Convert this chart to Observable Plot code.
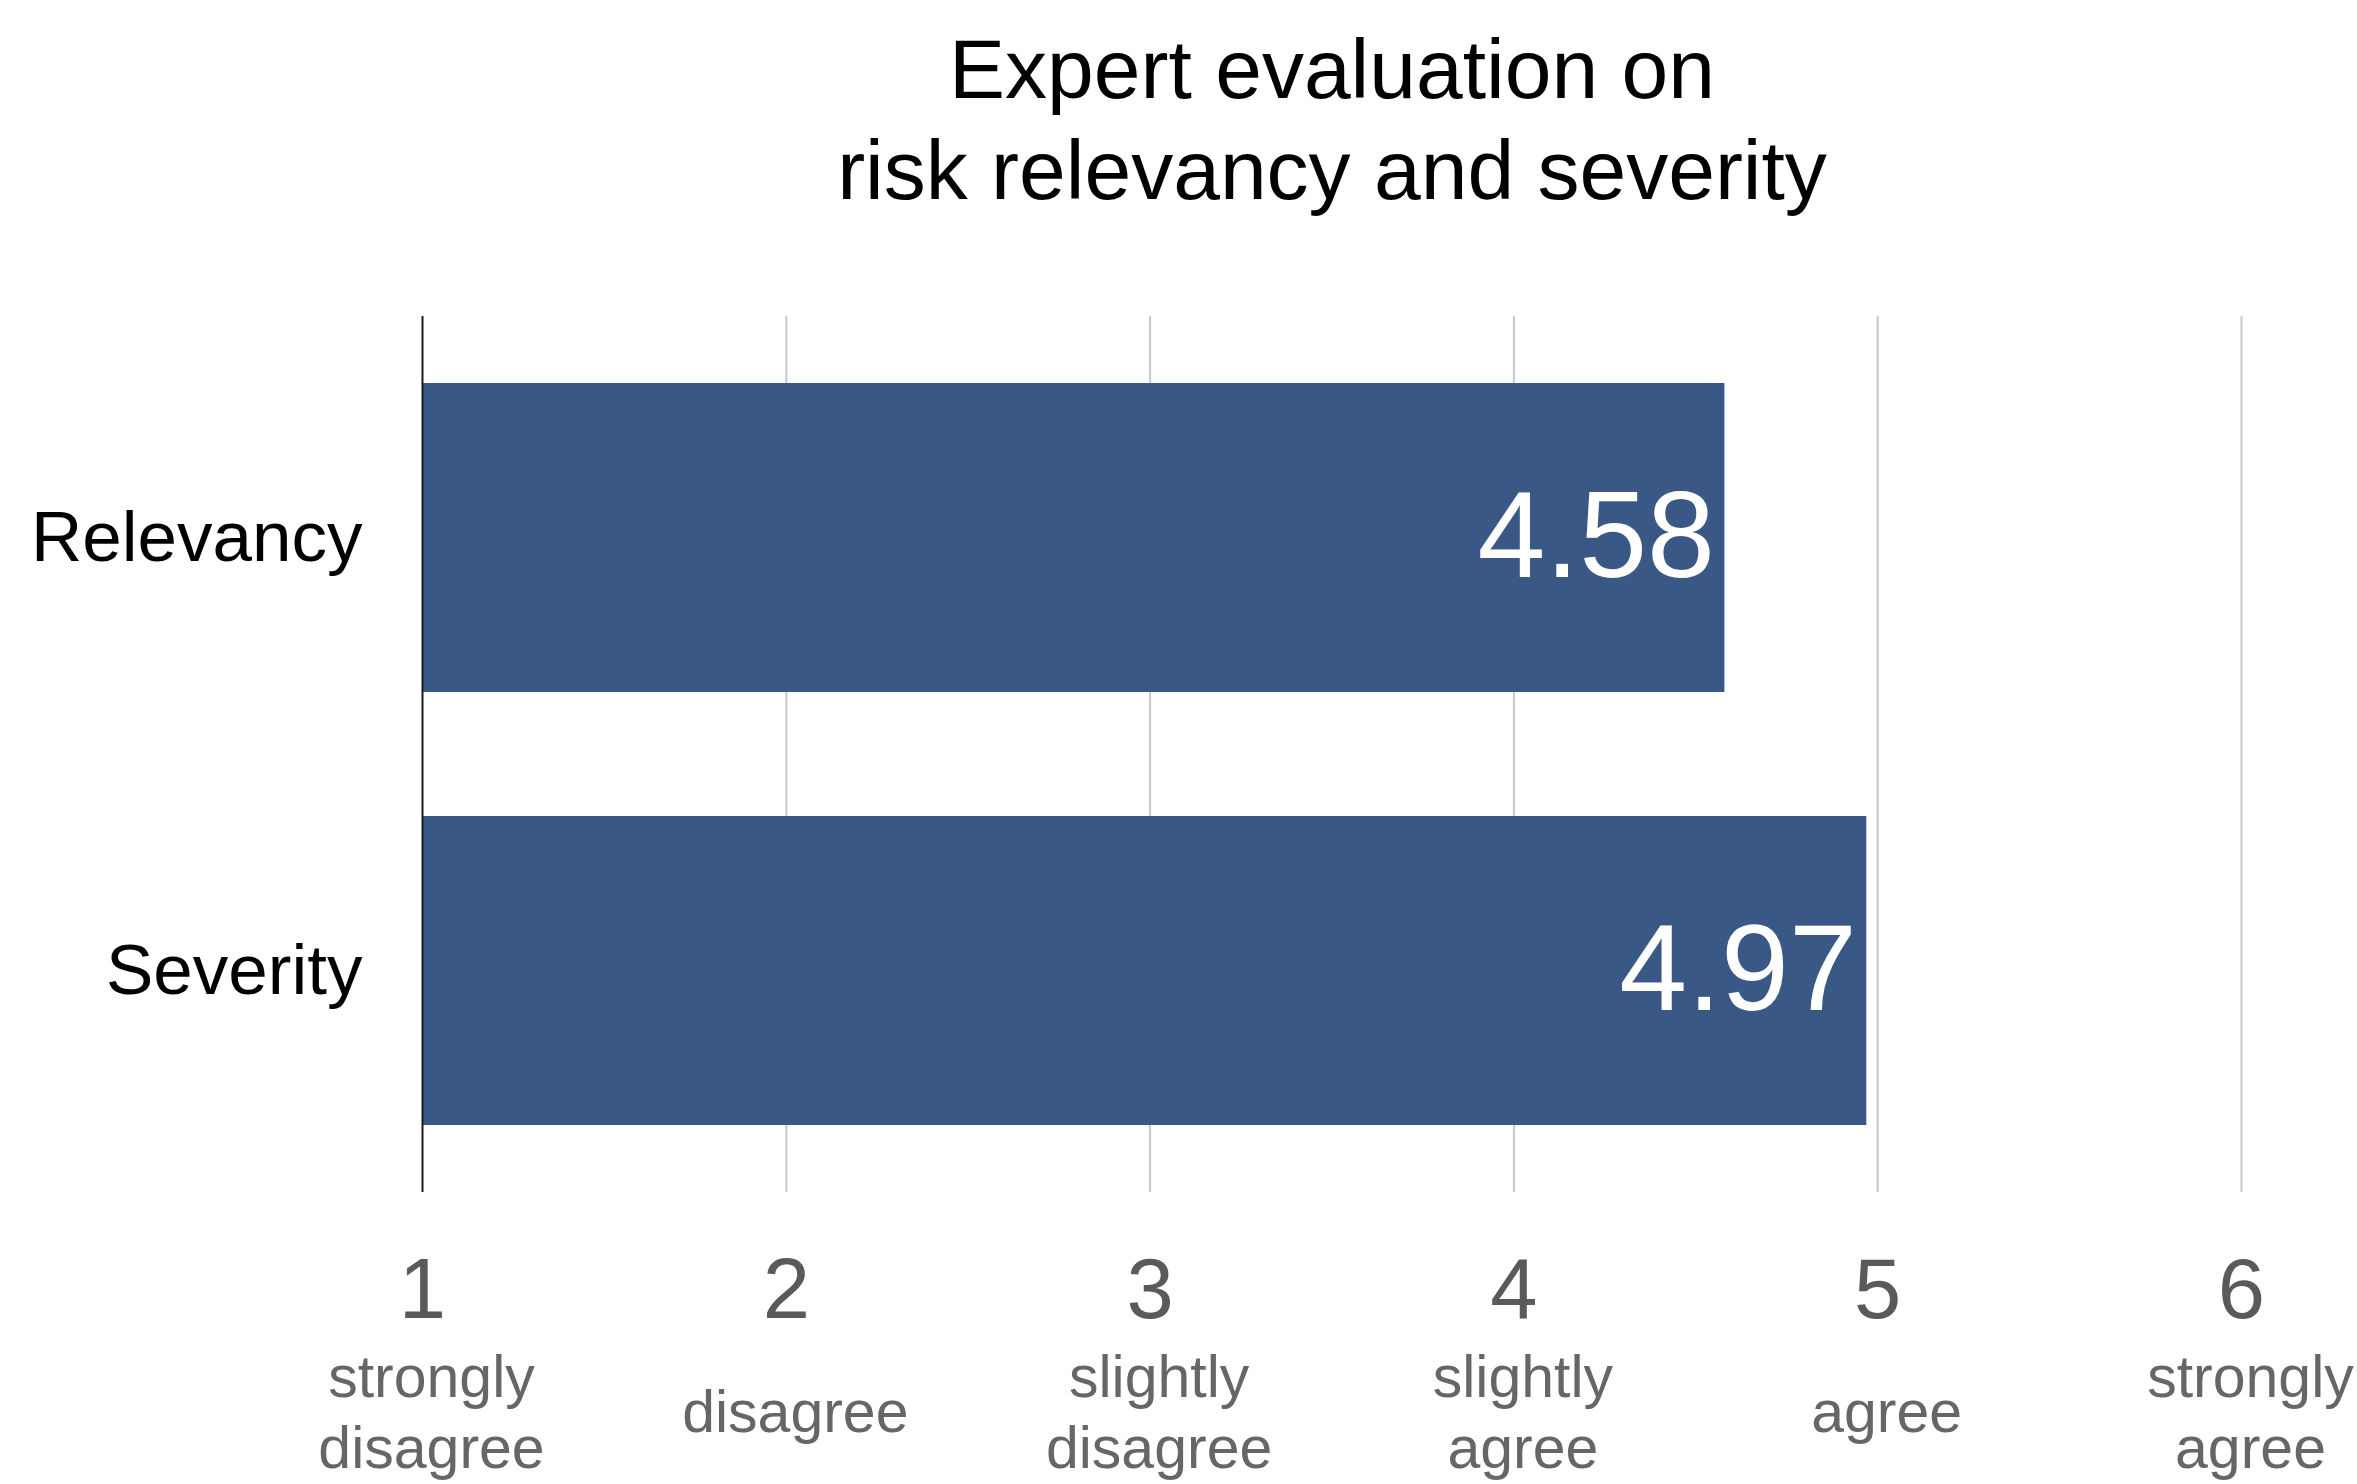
<!DOCTYPE html>
<html>
<head>
<meta charset="utf-8">
<script src="https://cdn.jsdelivr.net/npm/d3@7"></script>
<script src="https://cdn.jsdelivr.net/npm/@observablehq/plot@0.6"></script>
<style>
  html, body { margin: 0; padding: 0; background: #fff; }
  #chart svg { display: block; }
</style>
</head>
<body>
<div id="chart"></div>
<script>
// Mean expert ratings on a 6-point agreement scale
const categories = ["Relevancy", "Severity"];
const scores = [4.58, 4.97];

// Scale points and their verbal anchors
const scaleValues = [1, 2, 3, 4, 5, 6];
const scaleLabels = [
  "strongly\ndisagree",
  "disagree",
  "slightly\ndisagree",
  "slightly\nagree",
  "agree",
  "strongly\nagree"
];

const titleText = "Expert evaluation on\nrisk relevancy and severity";

const rows = categories.map((category, i) => ({category, score: scores[i]}));
const scalePoints = scaleValues.map((value, i) => ({value, label: scaleLabels[i]}));

const font = "'Liberation Sans', Arial, Helvetica, sans-serif";

const chart = Plot.plot({
  width: 2357,
  height: 1484,
  marginLeft: 422,
  marginRight: 116,
  marginTop: 316,
  marginBottom: 292,
  style: {fontFamily: font, background: "#fff"},
  x: {domain: [1, 6], axis: null},
  y: {domain: categories, paddingInner: 0.287, paddingOuter: 0.154, axis: null},
  marks: [
    // vertical grid at each scale point
    Plot.ruleX(scaleValues.slice(1), {stroke: "#c8c8c8", strokeWidth: 2}),
    // bars start at the scale minimum
    Plot.barX(rows, {x1: scaleValues[0], x2: "score", y: "category", fill: "#3a5886"}),
    // baseline at the scale minimum
    Plot.ruleX([scaleValues[0]], {stroke: "#1a1a1a", strokeWidth: 2}),
    Plot.axisY({tickSize: 0, tickPadding: 60, fontSize: 71, fill: "#000", label: null}),
    // value inside the end of each bar
    Plot.text(rows, {
      x: "score", y: "category",
      text: d => d.score.toFixed(2),
      textAnchor: "end", dx: -10,
      fill: "#fff", fontSize: 122
    }),
    // scale numbers
    Plot.text(scalePoints, {
      x: "value", frameAnchor: "bottom", lineAnchor: "bottom", dy: 125,
      text: d => String(d.value),
      fontSize: 85, fill: "#5a5a5a"
    }),
    // verbal anchors under the numbers
    Plot.text(scalePoints, {
      x: "value", frameAnchor: "bottom", lineAnchor: "middle", dy: 217, dx: 9,
      text: "label",
      fontSize: 59, lineHeight: 1.2, fill: "#666"
    }),
    // title
    Plot.text([titleText], {
      frameAnchor: "top", lineAnchor: "bottom", dy: -118,
      text: d => d,
      fontSize: 84, lineHeight: 1.2, fill: "#000"
    })
  ]
});

document.getElementById("chart").appendChild(chart);
</script>
</body>
</html>
